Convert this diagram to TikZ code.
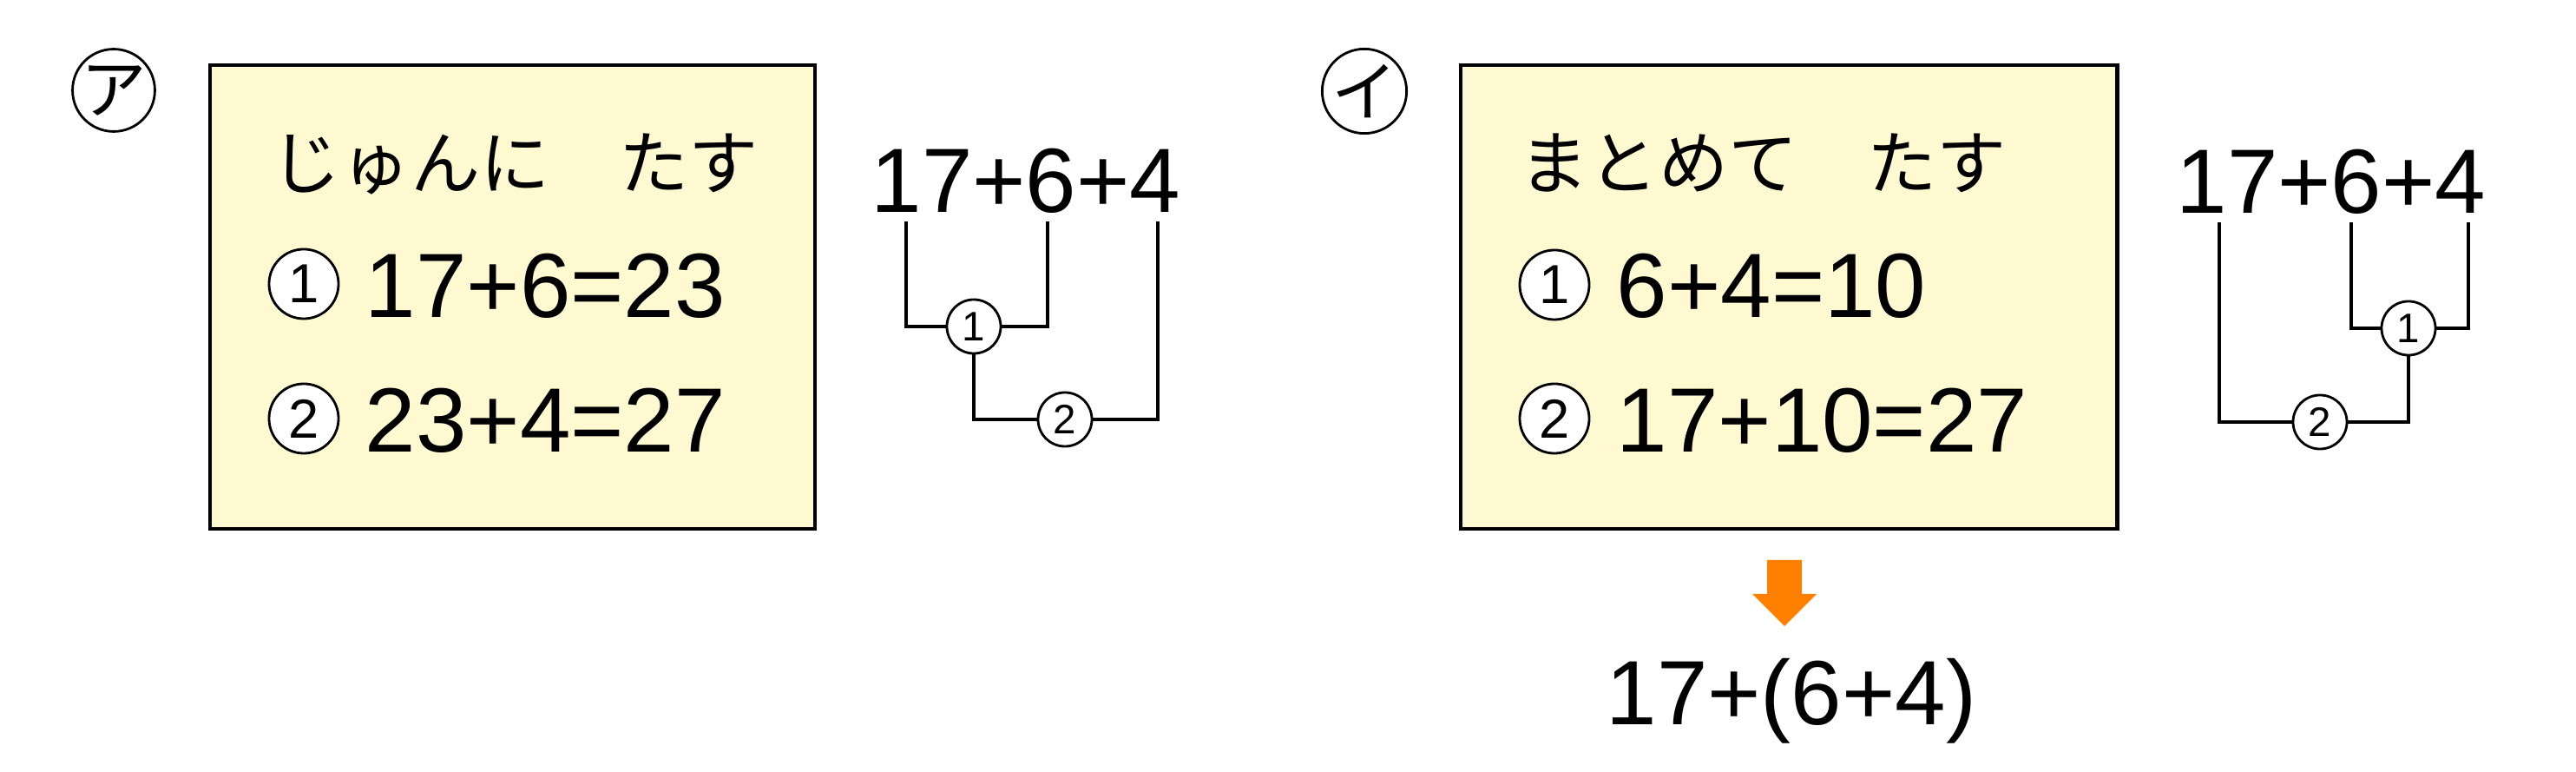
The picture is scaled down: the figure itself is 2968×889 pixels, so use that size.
\documentclass[tikz,border=0pt]{standalone}
\usepackage{fontspec}
\setmainfont{Liberation Sans}
\newfontfamily\jp{Noto Sans CJK JP}
\definecolor{boxfill}{RGB}{255,249,210}
\definecolor{arroworange}{RGB}{255,128,0}
\begin{document}
\begin{tikzpicture}[x=0.01cm,y=-0.01cm,
  frame/.style={draw=black,line width=1.3pt,fill=boxfill,inner sep=0pt},
  bigmath/.style={font=\fontsize{29.9}{32}\selectfont,inner sep=0pt,anchor=base west},
  bigmathc/.style={font=\fontsize{29.9}{32}\selectfont,inner sep=0pt,anchor=base},
  kana/.style={font=\jp\fontsize{22.8}{26}\selectfont,inner sep=0pt,anchor=base west},
  numcirc/.style={circle,draw,line width=0.8pt,fill=white,minimum size=0.8cm,inner sep=0pt,font=\fontsize{18}{19}\selectfont},
  tagcirc/.style={circle,draw,line width=0.8pt,fill=white,minimum size=0.92cm,inner sep=0pt,font=\jp\fontsize{21.5}{22}\selectfont},
  smallcirc/.style={circle,draw,line width=0.8pt,fill=white,minimum size=0.62cm,inner sep=0pt,font=\fontsize{13.5}{14}\selectfont},
  wire/.style={line width=1.14pt}]
\useasboundingbox (0,0) rectangle (2968,889);

% ---------- part A ----------
\node[tagcirc] (tagA) at (131,104) {ア};
\node[frame,minimum width=6.97cm,minimum height=5.34cm] (boxA) at (590.5,342) {};
\node[kana] (titleA) at (312,218) {じゅんに　たす};
\node[numcirc] (nA1) at (350,327) {1};
\node[bigmath] (eqA1) at (420,366) {17+6=23};
\node[numcirc] (nA2) at (350,482) {2};
\node[bigmath] (eqA2) at (420,521) {23+4=27};

\node[bigmathc] (exprA) at (1182,245) {17+6+4};
\coordinate (a1) at (1044,255);
\coordinate (a2) at (1207,255);
\coordinate (a3) at (1334,255);
\node[smallcirc] (cA1) at (1122,376) {1};
\node[smallcirc] (cA2) at (1227,483) {2};
\draw[wire] (a1) |- (cA1);
\draw[wire] (a2) |- (cA1);
\draw[wire] (cA1) |- (cA2);
\draw[wire] (a3) |- (cA2);

% ---------- part B ----------
\node[tagcirc] (tagB) at (1572,105) {イ};
\node[frame,minimum width=7.56cm,minimum height=5.34cm] (boxB) at (2061,342) {};
\node[kana] (titleB) at (1750,218) {まとめて　たす};
\node[numcirc] (nB1) at (1791,328) {1};
\node[bigmath] (eqB1) at (1862,366) {6+4=10};
\node[numcirc] (nB2) at (1791,482) {2};
\node[bigmath] (eqB2) at (1862,521) {17+10=27};

\node[bigmathc] (exprB) at (2686,246) {17+6+4};
\coordinate (b1) at (2557,256);
\coordinate (b2) at (2709,256);
\coordinate (b3) at (2844,256);
\node[smallcirc] (cB1) at (2775,378) {1};
\node[smallcirc] (cB2) at (2673,486) {2};
\draw[wire] (b2) |- (cB1);
\draw[wire] (b3) |- (cB1);
\draw[wire] (b1) |- (cB2);
\draw[wire] (cB1) |- (cB2);

\fill[arroworange] (2036,645) -- (2076,645) -- (2076,684) -- (2093,684) -- (2056,721) -- (2019,684) -- (2036,684) -- cycle;
\node[bigmathc] (result) at (2064,835) {17+(6+4)};
\end{tikzpicture}
\end{document}
